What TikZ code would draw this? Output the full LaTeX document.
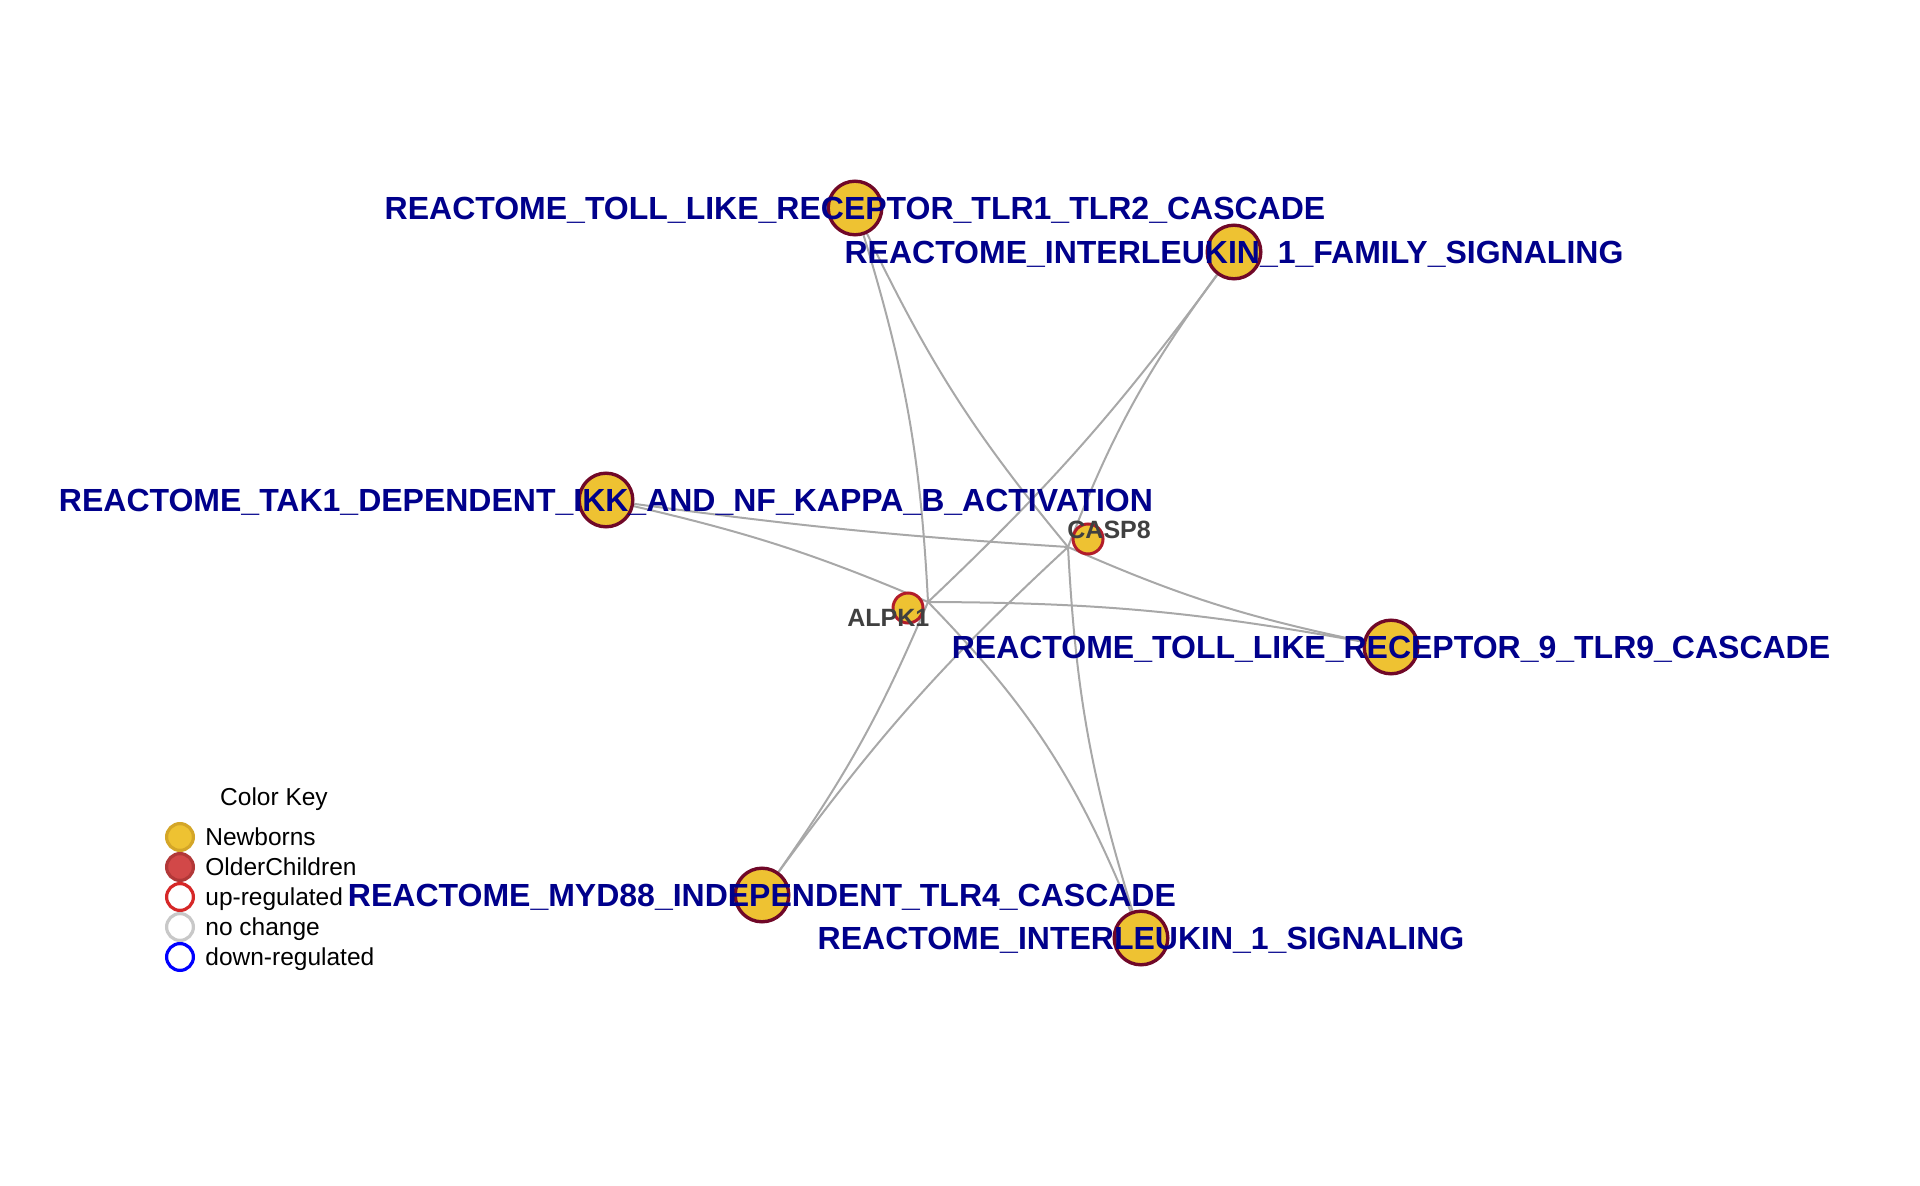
\documentclass[tikz,border=0pt]{standalone}
\usepackage{fontspec}
\setmainfont{Liberation Sans}
\usepackage{tikz}
\usetikzlibrary{positioning, backgrounds}

\definecolor{pathblue}{RGB}{0,0,139}
\definecolor{genegray}{RGB}{64,64,64}
\definecolor{nodegold}{RGB}{238,194,50}
\definecolor{nodemaroon}{RGB}{112,8,40}
\definecolor{genered}{RGB}{178,28,42}
\definecolor{edgegray}{RGB}{168,168,168}
\definecolor{keygold}{RGB}{212,166,40}
\definecolor{keyred}{RGB}{210,72,72}
\definecolor{keyredline}{RGB}{178,56,56}
\definecolor{keyup}{RGB}{214,40,40}
\definecolor{keynone}{RGB}{200,200,200}

\begin{document}
\begin{tikzpicture}[
    x=0.5pt, y=-0.5pt,
    pathway/.style={circle, draw=nodemaroon, fill=nodegold, line width=1.7pt, minimum size=26.8pt, inner sep=0pt},
    gene/.style={circle, draw=genered, fill=nodegold, line width=1.5pt, minimum size=15pt, inner sep=0pt},
    pathlabel/.style={anchor=base, inner sep=0pt, text=pathblue, font=\fontsize{16}{19}\selectfont\bfseries},
    genelabel/.style={anchor=base west, inner sep=0pt, text=genegray, font=\fontsize{12.5}{15}\selectfont\bfseries},
    keydot/.style={circle, line width=1.6pt, minimum size=13.4pt, inner sep=0pt},
    keytext/.style={anchor=base west, inner sep=0pt, font=\fontsize{12.25}{14}\selectfont},
    link/.style={draw=edgegray, line width=1pt}
]
    \useasboundingbox (0,0) rectangle (1920,1186);

    % --- Pathway nodes ---
    \node[pathway] (tlr1) at (855, 208) {};
    \node[pathway] (il1fam) at (1234, 252) {};
    \node[pathway] (tak1) at (606, 500) {};
    \node[pathway] (tlr9) at (1391, 647) {};
    \node[pathway] (myd88) at (762, 895) {};
    \node[pathway] (il1sig) at (1141, 938) {};

    % --- Gene nodes (edges meet at the hub points) ---
    \coordinate (alpk1) at (928, 602);
    \coordinate (casp8) at (1068, 547);
    \node[gene] (alpk1dot) at (908, 608) {};
    \node[gene] (casp8dot) at (1088, 539) {};

    % --- Edges ---
    \begin{pgfonlayer}{background}
        \draw[link] (tlr1) to[bend left=7] (alpk1);
        \draw[link] (tlr1) to[bend right=7] (casp8);
        \draw[link] (il1fam) to[bend left=5] (alpk1);
        \draw[link] (il1fam) to[bend right=7.5] (casp8);
        \draw[link] (tak1) to[bend left=5] (alpk1);
        \draw[link] (tak1) to[bend right=2] (casp8);
        \draw[link] (tlr9) to[bend right=5] (alpk1);
        \draw[link] (tlr9) to[bend left=6] (casp8);
        \draw[link] (myd88) to[bend right=6] (alpk1);
        \draw[link] (myd88) to[bend left=5.5] (casp8);
        \draw[link] (il1sig) to[bend right=11] (alpk1);
        \draw[link] (il1sig) to[bend left=7] (casp8);
    \end{pgfonlayer}

    % --- Labels ---
    \node[pathlabel] (tlr1lab) at (855, 219.5) {REACTOME\_TOLL\_LIKE\_RECEPTOR\_TLR1\_TLR2\_CASCADE};
    \node[pathlabel] (il1famlab) at (1234, 263.5) {REACTOME\_INTERLEUKIN\_1\_FAMILY\_SIGNALING};
    \node[pathlabel] (tak1lab) at (606, 511.5) {REACTOME\_TAK1\_DEPENDENT\_IKK\_AND\_NF\_KAPPA\_B\_ACTIVATION};
    \node[pathlabel] (tlr9lab) at (1391, 658.5) {REACTOME\_TOLL\_LIKE\_RECEPTOR\_9\_TLR9\_CASCADE};
    \node[pathlabel] (myd88lab) at (762, 906.5) {REACTOME\_MYD88\_INDEPENDENT\_TLR4\_CASCADE};
    \node[pathlabel] (il1siglab) at (1141, 949.5) {REACTOME\_INTERLEUKIN\_1\_SIGNALING};
    \node[genelabel] (alpk1lab) at (847, 626.7) {ALPK1};
    \node[genelabel] (casp8lab) at (1067, 538.3) {CASP8};

    % --- Color key ---
    \node[keytext, anchor=base] (keytitle) at (274, 805) {Color Key};
    \node[keydot, draw=keygold, fill=nodegold] (knew) at (180, 837) {};
    \node[keydot, draw=keyredline, fill=keyred] (kold) at (180, 867) {};
    \node[keydot, draw=keyup, fill=white] (kup) at (180, 897) {};
    \node[keydot, draw=keynone, fill=white] (knone) at (180, 927) {};
    \node[keydot, draw=blue, fill=white] (kdown) at (180, 957) {};
    \node[keytext] at (205, 845) {Newborns};
    \node[keytext] at (205, 875) {OlderChildren};
    \node[keytext] at (205, 905) {up-regulated};
    \node[keytext] at (205, 935) {no change};
    \node[keytext] at (205, 965) {down-regulated};
\end{tikzpicture}
\end{document}
